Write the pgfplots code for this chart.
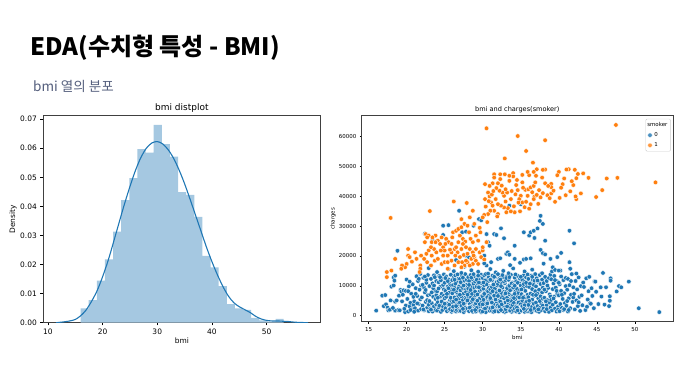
\documentclass[border=0pt]{standalone}
\usepackage{fontspec}
\setmainfont{DejaVu Sans}
\newfontfamily\krfont{Noto Sans CJK KR}
\usepackage{pgfplots}
\pgfplotsset{compat=1.18}
\definecolor{cA}{HTML}{1F77B4}
\definecolor{cB}{HTML}{FF7F0E}
\definecolor{histc}{RGB}{165,200,225}
\definecolor{subc}{RGB}{85,95,125}
\begin{document}
\begin{tikzpicture}
\useasboundingbox (0bp,0bp) rectangle (685bp,383bp);
\node[anchor=base west,inner sep=0pt] at (30bp,327.3bp) {\krfont\bfseries\fontsize{24.1}{27}\selectfont EDA(수치형 특성 - BMI)};
\node[anchor=base west,inner sep=0pt,text=subc] at (33bp,291.3bp) {\krfont\fontsize{13.6}{16}\selectfont bmi 열의 분포};

% ---------- left: distplot ----------
\begin{axis}[at={(43bp,60.3bp)}, anchor=south west, scale only axis,
  width=277.7bp, height=207bp,
  xmin=9.1, xmax=59.9, ymin=0, ymax=0.0712,
  xtick={10,20,30,40,50}, ytick={0,0.01,0.02,0.03,0.04,0.05,0.06,0.07},
  scaled y ticks=false,
  yticklabel style={/pgf/number format/fixed,/pgf/number format/fixed zerofill,/pgf/number format/precision=2},
  /pgf/number format/assume math mode=true,
  tick label style={font=\fontsize{7.5}{8}\selectfont},
  tick align=outside, major tick length=2.6bp, xtick pos=bottom, ytick pos=left,
  every tick/.style={black, line width=0.6bp},
  axis line style={black!75, line width=0.6bp},
  title={bmi distplot},
  every axis title/.style={at={(axis description cs:0.5,1)}, anchor=base, yshift=4.7bp, font=\fontsize{9}{10}\selectfont},
  xlabel={bmi}, ylabel={Density},
  every axis x label/.style={at={(axis description cs:0.5,-0.087)}, anchor=center, font=\fontsize{7.5}{8}\selectfont},
  every axis y label/.style={at={(axis description cs:-0.108,0.5)}, anchor=center, rotate=90, font=\fontsize{7.5}{8}\selectfont},
  axis on top=false]
\addplot[ybar interval, fill=histc, draw=none] coordinates {
(15.960,0.0049) (17.447,0.0078) (18.934,0.0145) (20.421,0.0218) (21.908,0.0313)
(23.394,0.0422) (24.881,0.0497) (26.368,0.0597) (27.855,0.0585) (29.342,0.0680)
(30.829,0.0614) (32.316,0.0571) (33.803,0.0449) (35.290,0.0440) (36.777,0.0364)
(38.264,0.0230) (39.751,0.0190) (41.238,0.0126) (42.725,0.0064) (44.212,0.0049)
(45.699,0.0044) (47.186,0.0017) (48.673,0.0008) (50.160,0.0004) (51.647,0.0013)
(53.134,0)};
\addplot[cA, line width=1.1bp, smooth] coordinates {
(11.5,0.0000) (13,0.0003) (14,0.0006) (15,0.0011) (16,0.0024) (17,0.0044) (18,0.0074)
(19,0.0110) (20,0.0158) (21,0.0213) (22,0.0277) (23,0.0343) (24,0.0408) (25,0.0468)
(26,0.0523) (27,0.0568) (28,0.0600) (29,0.0618) (30,0.0623) (31,0.0615) (32,0.0595)
(33,0.0565) (34,0.0525) (35,0.0478) (36,0.0425) (37,0.0370) (38,0.0315) (39,0.0260)
(40,0.0210) (41,0.0165) (42,0.0125) (43,0.0092) (44,0.0069) (45,0.0055) (46,0.0045)
(47,0.0035) (48,0.0022) (49,0.0013) (50,0.0008) (51,0.0006) (52,0.0006) (53,0.0005)
(54,0.0004) (55,0.0002) (56,0.0001) (57.6,0.0000)};
\end{axis}

% ---------- right: scatter ----------
\begin{axis}[at={(361.7bp,61.3bp)}, anchor=south west, scale only axis,
  width=311.3bp, height=206bp,
  xmin=14.1, xmax=55.0, ymin=-2011, ymax=66902,
  xtick={15,20,25,30,35,40,45,50}, ytick={0,10000,20000,30000,40000,50000,60000},
  scaled y ticks=false,
  yticklabel style={/pgf/number format/fixed,/pgf/number format/1000 sep={}},
  /pgf/number format/assume math mode=true,
  tick label style={font=\fontsize{5.5}{6}\selectfont},
  tick align=outside, major tick length=1.9bp, xtick pos=bottom, ytick pos=left,
  every tick/.style={black, line width=0.45bp},
  axis line style={black!75, line width=0.45bp},
  title={bmi and charges(smoker)},
  every axis title/.style={at={(axis description cs:0.5,1)}, anchor=base, yshift=4bp, font=\fontsize{6.6}{7}\selectfont},
  xlabel={bmi}, ylabel={charges},
  every axis x label/.style={at={(axis description cs:0.5,-0.0757)}, anchor=center, font=\fontsize{5.5}{6}\selectfont},
  every axis y label/.style={at={(axis description cs:-0.092,0.5)}, anchor=center, rotate=90, font=\fontsize{5.5}{6}\selectfont},
  legend style={at={(axis description cs:0.993,0.985)}, anchor=north east, font=\fontsize{5.5}{6}\selectfont,
    draw=black!20, rounded corners=1.2bp, fill=white, fill opacity=0.8, text opacity=1, row sep=0.6bp, inner sep=1.2bp},
  legend cell align=left,
  legend image code/.code={\draw[mark repeat=2,mark phase=2,#1] plot coordinates {(0bp,0bp) (3bp,0bp) (6bp,0bp)};},
  clip=false]
\addlegendimage{empty legend}
\addlegendentry{\hspace{-7bp}smoker}
% non-smokers
\addplot[only marks, mark=*, mark size=2.3bp, mark options={fill=cA, draw=white, line width=0.35bp}] coordinates {
(16.0,1700) (16.8,6700)
(17.2,6900) (17.0,3200) (17.3,3800) (17.5,2700) (17.6,1800) (17.8,2000) (17.9,5100)
(18.0,9700) (18.3,10100) (18.3,12800) (18.4,11700) (18.5,4700) (18.5,1700) (18.7,5100) (18.2,2600) (18.9,1900)
(19.0,6700) (19.2,8600) (19.3,8100) (19.5,7000) (19.6,8500) (19.8,1200) (19.9,3400) (19.9,8300) (19.4,4800) (19.7,2300) (19.1,1800)
(20.0,12100) (20.1,5600) (20.2,1400) (20.3,9800) (20.4,3100) (20.5,4300) (20.6,7400) (20.7,2100) (20.8,10500) (20.9,6300) (20.2,8200) (20.5,1900) (20.9,3600) (20.4,11400)
(21.0,4800) (21.1,2500) (21.2,9200) (21.3,13200) (21.4,6600) (21.5,1700) (21.5,11600) (21.6,3900) (21.7,8700) (21.8,5500) (21.9,2200) (21.2,7300) (21.6,12300) (21.9,10100) (21.0,1300) (21.4,4100)
(22.0,6100) (22.1,3400) (22.2,12700) (22.3,1800) (22.3,9400) (22.4,7800) (22.5,4600) (22.6,11000) (22.7,2700) (22.8,13600) (22.8,6800) (22.9,1500) (22.1,10300) (22.5,8600) (22.7,5200) (22.9,3600) (22.2,2100) (22.6,12000) (22.4,13100)
(23.0,9900) (23.1,2400) (23.1,7100) (23.2,12300) (23.3,4200) (23.4,1400) (23.4,10800) (23.5,6300) (23.6,3100) (23.6,13500) (23.7,8400) (23.8,1900) (23.8,5600) (23.9,11600) (23.0,4900) (23.2,2000) (23.5,9200) (23.7,12900) (23.9,3700) (23.3,7800) (23.6,10100) (23.9,6900)
(24.0,1700) (24.0,8100) (24.1,4500) (24.2,11200) (24.2,2800) (24.3,13300) (24.4,6400) (24.4,9600) (24.5,1300) (24.5,3900) (24.6,12400) (24.6,7300) (24.7,5100) (24.8,10300) (24.8,2200) (24.9,8800) (24.9,13800) (24.1,6000) (24.3,3300) (24.5,11800) (24.7,1900) (24.2,9100) (24.6,4700) (24.9,6700) (24.4,12900) (24.8,3000)
(25.0,5800) (25.0,11000) (25.1,2500) (25.1,8300) (25.2,13100) (25.3,4100) (25.3,1500) (25.4,9700) (25.4,6900) (25.5,12100) (25.5,3400) (25.6,1900) (25.6,7700) (25.7,10600) (25.7,5200) (25.8,13700) (25.8,2800) (25.9,8900) (25.9,4600) (25.2,6300) (25.4,11600) (25.6,3700) (25.8,10000) (25.1,12600) (25.3,7300) (25.9,1300) (25.5,9200) (25.7,2200) (25.0,4000) (25.8,6000)
(26.0,7500) (26.0,1800) (26.1,10200) (26.1,4300) (26.2,12800) (26.2,2600) (26.3,6100) (26.3,9300) (26.4,3500) (26.4,13500) (26.5,1400) (26.5,8000) (26.6,11300) (26.6,5000) (26.7,2300) (26.7,7100) (26.8,12400) (26.8,3900) (26.9,9800) (26.9,5800) (26.0,11900) (26.2,4800) (26.4,10700) (26.6,1900) (26.8,6600) (26.1,3000) (26.3,12000) (26.5,5400) (26.7,13800) (26.9,1600) (26.2,8700) (26.5,3200) (26.8,9000)
(27.0,4400) (27.0,12300) (27.1,1600) (27.1,8500) (27.2,6400) (27.2,10900) (27.3,2800) (27.3,13300) (27.4,5200) (27.4,9100) (27.5,1200) (27.5,7400) (27.6,11700) (27.6,3600) (27.7,6000) (27.7,13900) (27.8,2100) (27.8,8800) (27.9,4700) (27.9,10300) (27.0,7000) (27.2,3300) (27.4,12700) (27.6,1900) (27.8,5600) (27.1,11200) (27.3,9600) (27.5,4000) (27.7,2600) (27.9,12000) (27.2,14300) (27.5,10100) (27.8,7900) (27.4,2300)
(28.0,9500) (28.0,2400) (28.1,5800) (28.1,12900) (28.2,1500) (28.2,7800) (28.3,11000) (28.3,4000) (28.4,13600) (28.4,6500) (28.5,2000) (28.5,9900) (28.6,4900) (28.6,12200) (28.7,1300) (28.7,8100) (28.8,3300) (28.8,10700) (28.9,6200) (28.9,13200) (28.0,5100) (28.2,11600) (28.4,3000) (28.6,7300) (28.8,1800) (28.1,9000) (28.3,2700) (28.5,12700) (28.7,5500) (28.9,3800) (28.2,10300) (28.4,8600) (28.6,1600) (28.8,13900) (28.0,7000) (28.9,9300)
(29.0,3600) (29.0,11400) (29.1,6800) (29.1,1400) (29.2,9700) (29.2,4500) (29.3,13000) (29.3,2200) (29.4,7600) (29.4,10500) (29.5,5300) (29.5,1800) (29.6,12400) (29.6,8300) (29.7,3100) (29.7,6100) (29.8,13700) (29.8,1200) (29.9,9200) (29.9,4800) (29.0,8000) (29.2,12000) (29.4,2900) (29.6,5700) (29.8,10800) (29.1,4100) (29.3,7100) (29.5,11100) (29.7,1600) (29.9,6600) (29.2,2600) (29.4,13400) (29.6,3900) (29.8,8700) (29.0,1900) (29.5,9500) (29.9,12800) (29.3,5000)
(30.0,6400) (30.0,12600) (30.1,2100) (30.1,9000) (30.2,4300) (30.2,13500) (30.3,1500) (30.3,7700) (30.4,10900) (30.4,3400) (30.5,5900) (30.5,12100) (30.6,1900) (30.6,8500) (30.7,4700) (30.7,11500) (30.8,2700) (30.8,6800) (30.9,13100) (30.9,9800) (30.0,3800) (30.2,10200) (30.4,1200) (30.6,6200) (30.8,12900) (30.1,5300) (30.3,11800) (30.5,3000) (30.7,8100) (30.9,1700) (30.2,7300) (30.4,13900) (30.6,4100) (30.8,9400) (30.0,1400) (30.5,10500) (30.9,5600) (30.3,2400) (30.7,14100) (30.1,11100)
(31.0,8800) (31.0,2500) (31.1,5100) (31.1,12300) (31.2,1600) (31.2,9600) (31.3,4000) (31.3,13400) (31.4,7200) (31.4,1300) (31.5,10700) (31.5,3300) (31.6,6300) (31.6,12800) (31.7,2000) (31.7,8400) (31.8,4600) (31.8,11200) (31.9,6900) (31.9,13800) (31.0,5900) (31.2,11800) (31.4,3700) (31.6,9100) (31.8,1800) (31.1,7700) (31.3,2800) (31.5,13000) (31.7,5400) (31.9,10100) (31.2,4400) (31.4,10400) (31.6,1500) (31.8,7500) (31.0,12000) (31.5,6700) (31.9,3100) (31.3,8200) (31.7,14500)
(32.0,3500) (32.0,10600) (32.1,7000) (32.1,1400) (32.2,12500) (32.2,5000) (32.3,8900) (32.3,2300) (32.4,13300) (32.4,6200) (32.5,1700) (32.5,11000) (32.6,4200) (32.6,9400) (32.7,2900) (32.7,12900) (32.8,5800) (32.8,8000) (32.9,1200) (32.9,10900) (32.0,13900) (32.2,3000) (32.4,9900) (32.6,6900) (32.8,2100) (32.1,11600) (32.3,4700) (32.5,7600) (32.7,1500) (32.9,4400) (32.2,8400) (32.4,1900) (32.6,13600) (32.8,11400) (32.0,6600) (32.5,3800) (32.9,7300) (32.3,12100)
(33.0,4500) (33.0,11900) (33.1,1500) (33.1,8200) (33.2,6000) (33.2,13200) (33.3,2600) (33.3,9700) (33.4,4100) (33.4,12000) (33.5,1800) (33.5,7100) (33.6,10400) (33.6,3400) (33.7,5500) (33.7,13700) (33.8,1300) (33.8,8800) (33.9,6300) (33.9,11100) (33.0,2200) (33.2,9200) (33.4,7700) (33.6,1700) (33.8,4900) (33.1,12600) (33.3,5100) (33.5,10000) (33.7,2800) (33.9,3600) (33.2,3100) (33.4,14200) (33.6,8500) (33.8,10800) (33.0,7500) (33.5,12900)
(34.0,6800) (34.0,1900) (34.1,10300) (34.1,4300) (34.2,12700) (34.2,2400) (34.3,8100) (34.3,5600) (34.4,1400) (34.4,11500) (34.5,3700) (34.5,9000) (34.6,13300) (34.6,6500) (34.7,2000) (34.7,7600) (34.8,10900) (34.8,4800) (34.9,1600) (34.9,12400) (34.0,9400) (34.2,7300) (34.4,3100) (34.6,11000) (34.8,1200) (34.1,5900) (34.3,13800) (34.5,2700) (34.7,4400) (34.9,8700) (34.2,10000) (34.6,1800) (34.8,6100)
(35.0,3900) (35.0,10100) (35.1,1700) (35.1,7200) (35.2,12000) (35.2,5000) (35.3,2600) (35.3,9300) (35.4,13500) (35.4,6400) (35.5,1300) (35.5,11300) (35.6,4300) (35.6,8300) (35.7,2100) (35.7,12800) (35.8,5900) (35.8,9900) (35.9,1500) (35.9,7000) (35.0,13000) (35.2,3200) (35.4,10600) (35.6,1900) (35.8,4700) (35.1,8800) (35.3,6000) (35.5,3500) (35.7,11000) (35.9,13800) (35.4,2300)
(36.0,6200) (36.0,12300) (36.1,2200) (36.1,9600) (36.2,4600) (36.2,1400) (36.3,11000) (36.3,7400) (36.4,3000) (36.4,13400) (36.5,5400) (36.5,8900) (36.6,1700) (36.6,12000) (36.7,4000) (36.7,10300) (36.8,6700) (36.8,2500) (36.9,8200) (36.9,13900) (36.0,3600) (36.2,10700) (36.4,1200) (36.6,7000) (36.8,11700) (36.1,5000) (36.3,1900) (36.5,13000)
(37.0,4400) (37.0,9800) (37.1,1600) (37.1,12500) (37.2,7300) (37.2,3200) (37.3,11300) (37.3,5800) (37.4,1300) (37.4,8700) (37.5,13600) (37.5,2600) (37.6,6500) (37.6,10600) (37.7,4000) (37.7,1900) (37.8,12100) (37.8,7800) (37.9,3400) (37.9,9400) (37.0,6900) (37.3,2100) (37.5,4900) (37.8,14200) (37.2,11800) (37.9,5700)
(38.0,2400) (38.0,10900) (38.1,6000) (38.2,1500) (38.2,13000) (38.3,8200) (38.4,3600) (38.4,11600) (38.5,5200) (38.6,1900) (38.6,9300) (38.7,12600) (38.8,4400) (38.8,7100) (38.9,2800) (38.9,13700) (38.1,8700) (38.3,4800) (38.5,10100) (38.7,1300) (38.9,6400) (38.4,2200)
(39.0,5300) (39.0,12200) (39.1,1800) (39.2,8900) (39.2,3700) (39.3,10800) (39.4,6400) (39.4,13300) (39.5,2400) (39.6,9400) (39.6,4500) (39.7,1400) (39.8,11500) (39.8,7300) (39.9,3100) (39.1,14800) (39.3,5800) (39.5,11900) (39.7,8300) (39.9,2000)
(40.0,6800) (40.1,1500) (40.1,10500) (40.2,3900) (40.3,13100) (40.3,8300) (40.4,2600) (40.5,5600) (40.6,11900) (40.6,1900) (40.7,7500) (40.8,4200) (40.9,9900) (40.9,12600) (40.2,15100) (40.4,7000) (40.7,2200) (40.0,11000)
(41.0,3300) (41.1,8700) (41.2,1400) (41.2,12300) (41.3,5800) (41.4,10200) (41.5,2500) (41.6,7000) (41.7,13900) (41.8,4600) (41.9,9500) (41.3,1900) (41.6,11600) (41.9,6100) (41.1,4900)
(42.0,7300) (42.1,2100) (42.2,11600) (42.3,5100) (42.4,8800) (42.5,3200) (42.6,12800) (42.7,6300) (42.8,1600) (42.9,9900) (42.3,14100) (42.6,4500)
(43.0,6800) (43.1,3500) (43.3,9600) (43.5,1900) (43.6,12500) (43.8,5400) (43.9,8200) (43.2,11100) (43.7,3000)
(44.0,13000) (44.1,4200) (44.3,9200) (44.4,6600) (44.6,2500) (44.7,11500) (44.9,8000) (44.2,4000)
(44.8,11400) (45.5,9500) (45.6,6400) (46.0,3700) (46.2,9500) (46.6,3200) (46.7,5000) (46.7,6500) (46.8,12500) (46.8,11700) (47.6,8100) (47.9,9900) (48.2,9500) (49.2,11400) (50.5,2500) (53.2,1200) (45.8,14300) (45.2,3900)
(18.8,21700) (18.5,13400) (21.8,14000) (22.4,27400) (23.4,25100) (24.8,30100) (25.5,30300) (24.8,27000) (26.9,35100) (27.3,27900) (27.8,28100) (27.8,20100) (28.8,30100) (29.5,32300) (29.8,31900) (30.5,27300) (30.7,24600) (30.9,23400) (30.2,20100) (30.5,16800) (31.1,17900) (31.5,27300) (31.8,27000) (32.0,19000) (32.3,19200) (32.4,29200) (32.8,25900) (33.1,20700) (33.3,21200) (33.5,20400) (34.2,23400) (33.5,36800) (35.0,37300) (34.2,19000) (35.4,27900) (35.4,18800) (35.7,19000) (36.1,26800) (36.3,19200) (36.3,27900) (36.7,28400) (36.8,26000) (37.2,29200) (37.5,31700) (37.6,33400) (37.9,30700) (37.6,22000) (37.9,20900) (38.2,25100) (38.9,19000) (39.8,19600) (40.3,21000) (41.4,28400) (42.0,24200) (41.5,15700) (39.2,16200) (39.5,15300) (40.0,15100) (41.4,17900) (38.2,20500)
(24.0,14600) (26.2,14900) (28.5,15200) (29.4,14700) (31.0,15600) (32.7,15000) (34.0,15800) (35.5,14800) (36.5,15400) (25.5,15600) (27.6,16400) (30.2,17500) (33.6,16900) (34.9,17700) (22.9,15900) (28.2,19500) (26.5,18600) (38.0,17400)
};
\addlegendentry{0}
% smokers
\addplot[only marks, mark=*, mark size=2.3bp, mark options={fill=cB, draw=white, line width=0.35bp}] coordinates {
(17.9,32700) (23.05,35000) (26.2,38200) (27.9,37700) (30.5,62700) (34.6,60100) (35.7,55100) (38.2,58700) (32.9,52600) (47.5,63800) (52.7,44600)
(47.7,46100) (46.3,45900) (43.9,46100) (44.9,39700) (45.7,42000) (42.9,40900) (42.3,39000) (42.2,39900) (41.9,43700) (42.3,46000) (42.1,48800) (42.5,47400) (41.3,49000) (41.0,48900) (40.0,48100) (40.5,44000) (40.7,45900) (40.1,39400) (39.5,38100) (39.0,40900) (39.0,44100) (39.0,43000)
(38.2,48900) (37.9,48800) (38.2,44300) (38.5,40300) (37.9,41000) (36.8,39800) (37.1,49000) (36.7,48100) (36.6,51200) (37.0,46800) (36.1,47000) (35.9,48100) (35.2,47100) (35.2,44600) (35.6,42100) (36.0,42300) (36.3,42900) (36.7,43400) (37.1,40400) (37.6,39600)
(34.6,42000) (34.4,43700) (34.0,47700) (34.0,46600) (35.0,40100) (34.8,39000) (35.2,37900) (35.7,38100) (35.9,40100) (36.3,37300) (36.7,39000) (34.9,34900) (34.2,34600) (33.7,34900) (33.3,36000) (33.1,34600) (32.8,36200) (32.4,36800) (32.8,40100) (32.6,41200) (32.2,41800)
(33.5,46800) (33.5,45100) (33.2,41200) (33.7,39000) (32.3,47300) (32.3,45700) (32.0,44300) (31.5,47300) (31.5,46200) (31.3,44300) (30.9,43400) (30.3,44000) (30.7,41200) (30.9,39900) (30.3,39000) (31.1,37900) (31.3,36800) (31.5,35100) (32.0,34000) (31.0,35100) (30.7,34000) (30.2,33700) (30.0,32900) (31.7,39000) (32.0,37300)
(22.5,27300) (22.9,26800) (23.3,24600) (23.8,26800) (24.1,25100) (24.4,24000) (24.6,26200) (24.8,22900) (25.0,21800) (25.2,25700) (25.5,24600) (25.9,24000) (26.1,27900) (26.5,28400) (26.8,29000) (27.2,29600) (27.0,26800) (27.4,25700) (27.7,24800)
(26.3,22300) (26.7,21200) (27.2,22300) (27.5,20300) (28.0,20700) (28.3,22300) (28.7,21200) (28.5,19000) (28.9,19600) (29.1,18400) (28.7,17300) (28.0,17900) (27.6,16800) (27.2,16200) (26.8,17900) (26.4,20100) (25.9,21200) (25.4,20100) (24.8,20100) (24.5,21800) (23.9,21200) (23.6,22300) (23.3,20100) (22.9,21800) (22.6,20700)
(21.9,20100) (22.3,19000) (22.7,17900) (23.2,16800) (23.7,18400) (24.1,19000) (24.6,17300) (25.0,17900) (25.4,15700) (21.8,16800) (21.8,15700) (21.7,14600) (21.3,19000) (21.1,21200) (20.7,18100) (20.2,22300) (20.2,20100) (20.4,19600) (20.0,17300) (19.8,16200) (19.4,16800) (19.3,15700) (18.5,19000) (18.0,15100) (17.4,14600) (17.4,12900)
(28.7,24600) (29.1,26800) (29.4,25100) (29.1,22300) (29.6,21200) (29.8,19600) (30.0,21800) (30.2,18800) (30.5,24600) (30.0,22900) (29.7,27900) (28.9,30700) (28.7,35100) (28.3,32900) (27.2,32300) (27.6,30700) (26.8,24600) (26.5,22900) (26.0,26200) (25.7,22100) (25.1,24000) (23.8,24600) (23.2,22900) (22.4,24600) (22.7,26200) (23.4,26200)
(28.0,30100) (28.2,27900) (28.4,25700) (27.8,22900) (27.4,24000) (27.0,19600) (27.3,17900) (27.8,18400) (28.3,16800) (28.8,20100) (29.4,17300) (26.3,16800) (25.9,18400) (25.4,17900)
(30.4,36500) (30.8,38300) (31.2,40500) (31.8,42700) (32.5,43500) (33.0,42300) (33.8,41700) (34.3,40600) (34.7,37800) (35.5,36300) (36.1,35800) (36.5,41300) (37.4,42000) (37.8,46200) (38.6,43400) (39.3,41800) (40.3,42800) (41.5,41600) (41.7,45000) (39.8,47000)
(33.0,38200) (34.1,36600) (35.3,42800) (36.9,44600) (31.9,33200) (30.6,31300) (29.6,29400) (31.4,41700) (32.9,47300) (34.5,45400) (37.3,37400) (38.8,39300) (40.9,40300) (43.2,47600)
};
\addlegendentry{1}
\end{axis}
\end{tikzpicture}
\end{document}
